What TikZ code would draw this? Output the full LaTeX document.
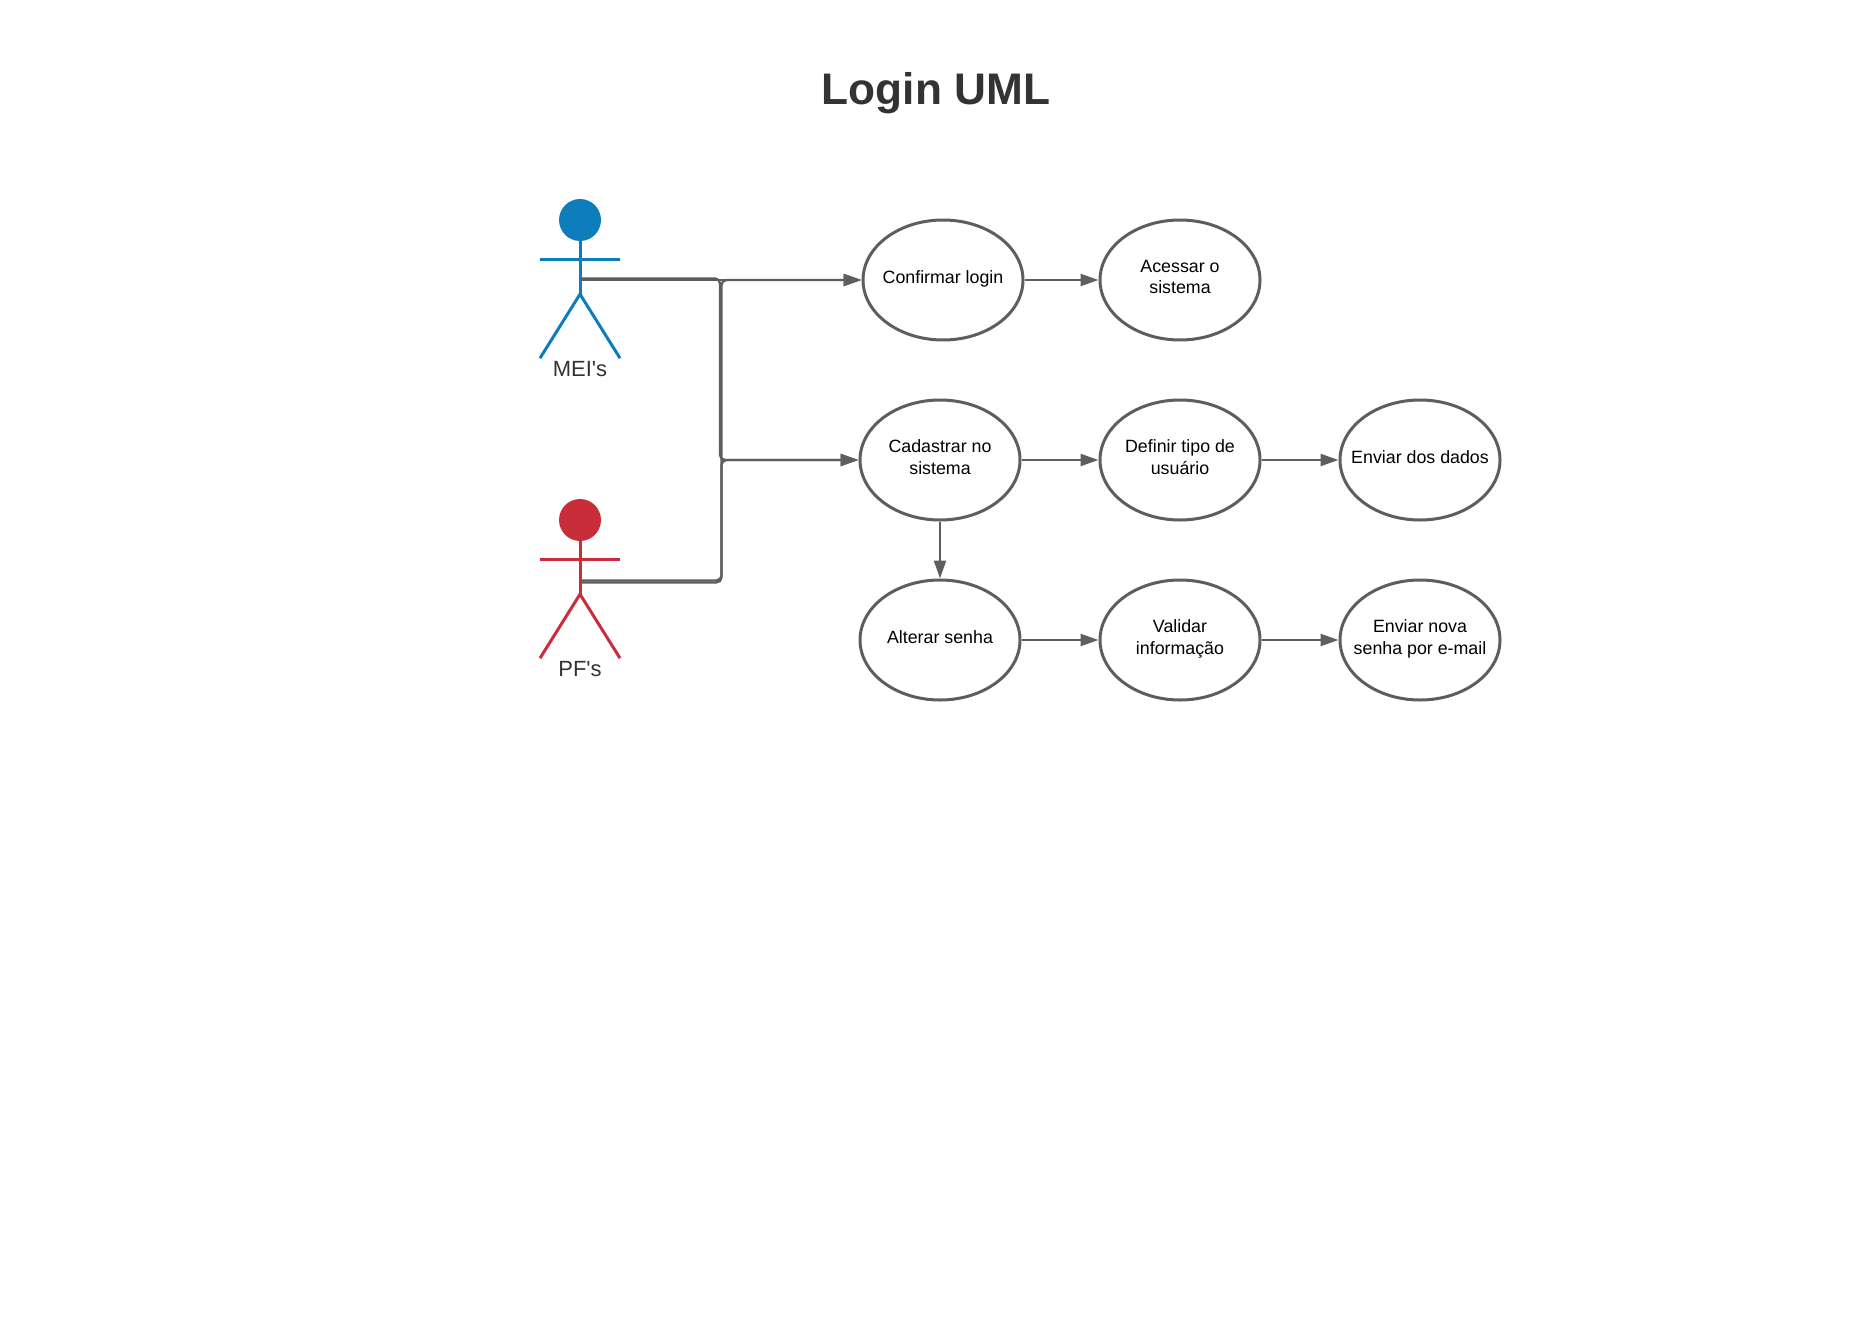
\documentclass[tikz,border=0pt]{standalone}
\usepackage{fontspec}
\setmainfont{Liberation Sans}[Ligatures=TeXOff]
\usetikzlibrary{arrows.meta, positioning, shapes.geometric}
\definecolor{inkgray}{HTML}{5E5E5E}
\definecolor{meiblue}{HTML}{0C7CBA}
\definecolor{pfred}{HTML}{C92D39}
\definecolor{titlegray}{HTML}{333333}
\tikzset{
  usecase/.style={draw=inkgray, line width=3pt, ellipse, minimum width=160pt, minimum height=120pt,
    inner xsep=-30pt, inner ysep=0pt, align=center, text depth=6pt, font=\fontsize{17.8}{21.6}\selectfont},
  flow/.style={draw=inkgray, line width=2.3pt, -{Triangle[length=18pt,width=12pt]}},
  bus/.style={flow, rounded corners=5pt},
  actorhead/.style={circle, minimum size=42pt, inner sep=0pt},
  actorline/.style={line width=3pt},
  actorname/.style={font=\fontsize{22}{26}\selectfont, text=titlegray}
}

\begin{document}
\begin{tikzpicture}[x=1pt, y=1pt, node distance = 57pt and 77pt]
\useasboundingbox (0,0) rectangle (1870,-1322);
\node (title) [font=\fontsize{44.2}{50}\selectfont\bfseries, text=titlegray] at (936,-93) {Login UML};
%
\node (conf) [usecase] at (943,-280) {Confirmar login};
\node (acc)  [usecase] at (1180,-280) {Acessar o\\sistema};
\node (cad)  [usecase] at (940,-460) {Cadastrar no\\sistema};
\node (tipo) [usecase, right=of cad]  {Definir tipo de\\usuário};
\node (env)  [usecase, right=of tipo] {Enviar dos dados};
\node (alt)  [usecase, below=of cad]  {Alterar senha};
\node (val)  [usecase, right=of alt]  {Validar\\informação};
\node (nova) [usecase, right=of val]  {Enviar nova\\senha por e-mail};
%
\foreach \who/\ink/\top/\txt in {mei/meiblue/220/MEI's, pf/pfred/520/PF's} {
  \node (\who head) [actorhead, fill=\ink] at (580,-\top) {};
  \coordinate (\who hip) at ([yshift=-53pt]\who head.south);
  \draw[actorline, \ink] (\who head.south) -- (\who hip);
  \draw[actorline, \ink] ([xshift=-40pt, yshift=-18pt]\who head.south) -- ++(80,0);
  \draw[actorline, \ink] ([xshift=-40pt, yshift=-64pt]\who hip) -- (\who hip) -- ([xshift=40pt, yshift=-64pt]\who hip);
  \node (\who name) [actorname] at ([yshift=-75pt]\who hip) {\txt};
}
%
\coordinate (meia) at (581,-280);
\coordinate (meib) at (581,-278.4);
\coordinate (pfa)  at (581,-580.4);
\coordinate (pfb)  at (581,-582.4);
\coordinate (busa) at (720,0);
\coordinate (busb) at (721.5,0);
%
\draw[flow] (meia) -- (conf);
\draw[bus] (meib) -- (meib -| busa) -- (busa |- cad) -- (cad);
\draw[bus] (pfa) -- (pfa -| busb) -- (busb |- conf) -- (conf);
\draw[bus] (pfb) -- (pfb -| busb) -- (busb |- cad) -- (cad);
%
\draw[flow] (conf) -- (acc);
\draw[flow] (cad) -- (tipo);
\draw[flow] (tipo) -- (env);
\draw[flow] (cad) -- (alt);
\draw[flow] (alt) -- (val);
\draw[flow] (val) -- (nova);
\end{tikzpicture}
\end{document}
